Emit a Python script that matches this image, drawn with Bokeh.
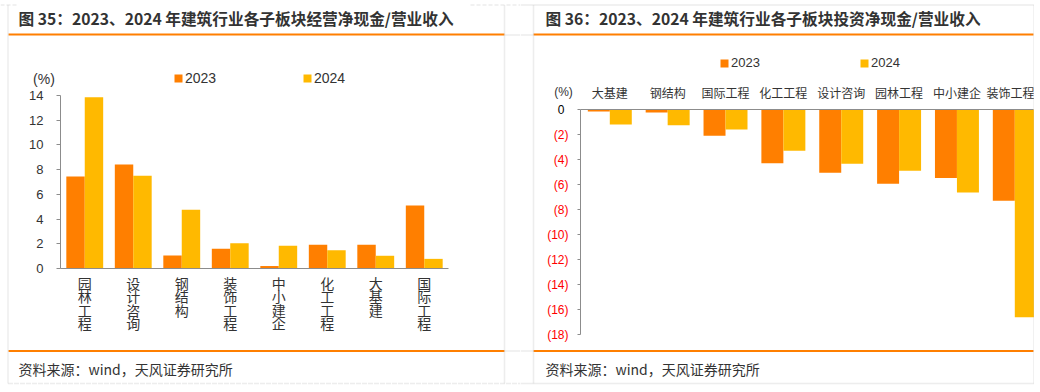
from bokeh.plotting import figure
from bokeh.models import FixedTicker, Range1d, Label, BoxAnnotation, Legend, LegendItem, ColumnDataSource
from bokeh.layouts import row
from bokeh.embed import file_html
from bokeh.resources import INLINE
from bokeh.transform import dodge

# ---------------- data ----------------
title_l = "图 35：2023、2024 年建筑行业各子板块经营净现金/营业收入"
title_r = "图 36：2023、2024 年建筑行业各子板块投资净现金/营业收入"
source_note = "资料来源：wind，天风证券研究所"
unit_label = "(%)"
years = ["2023", "2024"]

cats_l = ["园林工程", "设计咨询", "钢结构", "装饰工程", "中小建企", "化工工程", "大基建", "国际工程"]
op_2023 = [7.44, 8.41, 1.05, 1.59, 0.2, 1.92, 1.92, 5.1]
op_2024 = [13.86, 7.5, 4.75, 2.05, 1.84, 1.48, 1.03, 0.78]
ticks_l = [0, 2, 4, 6, 8, 10, 12, 14]

cats_r = ["大基建", "钢结构", "国际工程", "化工工程", "设计咨询", "园林工程", "中小建企", "装饰工程"]
inv_2023 = [-0.16, -0.24, -2.1, -4.29, -5.06, -5.94, -5.48, -7.29]
inv_2024 = [-1.2, -1.25, -1.6, -3.3, -4.34, -4.9, -6.63, -16.6]
ticks_r = [0, -2, -4, -6, -8, -10, -12, -14, -16, -18]
tick_labels_r = ["0", "(2)", "(4)", "(6)", "(8)", "(10)", "(12)", "(14)", "(16)", "(18)"]

# ---------------- style ----------------
ORANGE = "#FF7F00"
GOLD = "#FFB900"
TXT = "#333333"
AXIS = "#8c8c8c"
BORDER = "#c4c4c4"
F_LAT = "'Liberation Sans', 'Noto Sans CJK SC'"
F_CJK = "'Noto Sans CJK SC'"
BW = 0.38
H = 392


def lin(d0, p0, d1, p1, p):
    """data value at pixel p, given two (data, pixel) anchors"""
    return d0 + (p - p0) * (d1 - d0) / (p1 - p0)


def base_fig(width, xr, yr, **kw):
    p = figure(width=width, height=H, output_backend="svg", toolbar_location=None,
               min_border_left=0, min_border_right=0, min_border_top=0, min_border_bottom=0,
               x_range=Range1d(*xr), y_range=Range1d(*yr), **kw)
    p.outline_line_color = None
    p.xgrid.grid_line_color = None
    p.ygrid.grid_line_color = None
    p.background_fill_color = "white"
    p.border_fill_color = "white"
    return p


def label(p, text, x, y, size, color=TXT, font=F_CJK, style="normal", align="left",
          baseline="middle", yu="screen"):
    p.add_layout(Label(x=x, y=y, x_units="screen", y_units=yu, text=text, text_font=font,
                       text_font_size=size, text_color=color, text_font_style=style,
                       text_align=align, text_baseline=baseline))


def box(p, l, r, t, b, fill=None, line=None, dash="solid", lw=1):
    p.add_layout(BoxAnnotation(left=l, right=r, top=t, bottom=b, left_units="screen",
                               right_units="screen", top_units="screen", bottom_units="screen",
                               fill_color=fill, fill_alpha=1 if fill else 0,
                               line_color=line, line_dash=dash, line_width=lw, level="overlay"))


def dline(p, x0, y0, x1, y1, cx):
    # dashed cell border, given in page pixels; cx = canvas left on the page
    box(p, x0 - cx, x1 - cx, H - y0, H - y1, line=BORDER, dash="4 2", lw=1.5)


def add_legend(p, renderer, text, loc, size):
    leg = Legend(items=[LegendItem(label=text, renderers=[renderer])], location=loc,
                 orientation="horizontal", glyph_width=10, glyph_height=10, label_standoff=2,
                 label_text_font=F_LAT, label_text_font_size=size, label_text_color=TXT,
                 padding=0, margin=0, spacing=0, border_line_color=None,
                 background_fill_alpha=0, label_height=10)
    p.add_layout(leg)


def style_y(ax, size, color, standoff, tick_out):
    ax.minor_tick_line_color = None
    ax.major_tick_in = 0
    ax.major_tick_out = tick_out
    ax.major_tick_line_color = AXIS
    ax.axis_line_color = AXIS
    ax.major_label_standoff = standoff
    ax.major_label_text_font = F_LAT
    ax.major_label_text_font_size = size
    ax.major_label_text_color = color


def style_x(ax, size, standoff):
    ax.major_tick_line_color = None
    ax.minor_tick_line_color = None
    ax.major_tick_out = 0
    ax.major_tick_in = 0
    ax.major_label_standoff = standoff
    ax.axis_line_color = AXIS
    ax.major_label_text_font = F_CJK
    ax.major_label_text_font_size = size
    ax.major_label_text_color = TXT


# ================= left panel (page x 0..520) =================
WL = 520
x0l, x1l = -0.5, len(cats_l) - 0.5          # chart x extent
ax_l = (x0l, 60, x1l, 448)                  # data/pixel anchors
ay_l = (0, 268, 14, 95)
pl = base_fig(WL, (lin(*ax_l, 0), lin(*ax_l, WL)), (lin(*ay_l, H), lin(*ay_l, 0)))

src_l = ColumnDataSource(dict(x=list(range(len(cats_l))), y23=op_2023, y24=op_2024))
rl23 = pl.vbar(x=dodge("x", -BW / 2, range=pl.x_range), top="y23", bottom=0, width=BW,
               source=src_l, fill_color=ORANGE, line_color=None)
rl24 = pl.vbar(x=dodge("x", BW / 2, range=pl.x_range), top="y24", bottom=0, width=BW,
               source=src_l, fill_color=GOLD, line_color=None)

xa = pl.xaxis[0]
xa.fixed_location = 0
xa.bounds = (x0l, x1l)
xa.ticker = FixedTicker(ticks=list(range(len(cats_l))))
xa.major_label_overrides = {i: "\n".join(c) for i, c in enumerate(cats_l)}
style_x(xa, "14px", 4)
xa.major_label_text_line_height = 0.68

ya = pl.yaxis[0]
ya.fixed_location = x0l
ya.bounds = (ticks_l[0], ticks_l[-1])
ya.ticker = FixedTicker(ticks=ticks_l)
style_y(ya, "13px", TXT, 13, 4)

label(pl, title_l, 18, H - 18, "15.7px", style="bold")
box(pl, 8, 504, H - 33, H - 35, fill=ORANGE)
box(pl, 8, 504, H - 349.5, H - 351.5, fill=ORANGE)
label(pl, source_note, 18, H - 368, "14px")
label(pl, unit_label, 43.5, H - 78, "14px", font=F_LAT, align="center")
dline(pl, 7.5, 4.5, 7.5, 383, 0)
dline(pl, 504, 4.5, 504, 383, 0)
dline(pl, 7.5, 383, 520, 383, 0)
dline(pl, 0, 4.5, 17, 4.5, 0)
dline(pl, 470, 4.5, 520, 4.5, 0)
dline(pl, 504, 34.5, 520, 34.5, 0)
dline(pl, 504, 350.5, 520, 350.5, 0)
add_legend(pl, rl23, years[0], (173, H - 86), "14px")
add_legend(pl, rl24, years[1], (302, H - 86), "14px")

# ================= right panel (page x 520..1034) =================
CX = 520
WR = 514
n = len(cats_r)
ax_r = (0, 609.3 - CX, n - 1, 1014.3 - CX)
ay_r = (0, 109, -18, 334.3)
pr = base_fig(WR, (lin(*ax_r, 0), lin(*ax_r, WR)), (lin(*ay_r, H), lin(*ay_r, 0)),
              x_axis_location="above")
y_axis_x = lin(*ax_r, 580 - CX)

src_r = ColumnDataSource(dict(x=list(range(n)), y23=inv_2023, y24=inv_2024))
rr23 = pr.vbar(x=dodge("x", -BW / 2, range=pr.x_range), top=0, bottom="y23", width=BW,
               source=src_r, fill_color=ORANGE, line_color=None)
rr24 = pr.vbar(x=dodge("x", BW / 2, range=pr.x_range), top=0, bottom="y24", width=BW,
               source=src_r, fill_color=GOLD, line_color=None)

xr = pr.xaxis[0]
xr.fixed_location = 0
xr.bounds = (y_axis_x, lin(*ax_r, 1033 - CX))
xr.ticker = FixedTicker(ticks=list(range(n)))
xr.major_label_overrides = {i: c for i, c in enumerate(cats_r)}
style_x(xr, "12px", 9)

yr = pr.yaxis[0]
yr.fixed_location = y_axis_x
yr.bounds = (ticks_r[-1], ticks_r[0])
yr.ticker = FixedTicker(ticks=ticks_r)
yr.major_label_overrides = {t: (s if t != 0 else "") for t, s in zip(ticks_r, tick_labels_r)}
style_y(yr, "12px", "#FF0000", 9, 3)

label(pr, tick_labels_r[0], 564 - CX, ticks_r[0], "12px", color="#000000", font=F_LAT,
      align="right", yu="data")
label(pr, title_r, 545 - CX, H - 18, "15.7px", style="bold")
box(pr, 533 - CX, 1033 - CX, H - 33, H - 35, fill=ORANGE)
box(pr, 533 - CX, 1033 - CX, H - 349.5, H - 351.5, fill=ORANGE)
label(pr, source_note, 545 - CX, H - 368, "14px")
label(pr, unit_label, 563 - CX, H - 91, "12px", font=F_LAT, align="center")
dline(pr, 533, 4.5, 533, 383, CX)
dline(pr, 1033.5, 4.5, 1033.5, 383, CX)
dline(pr, 520, 4.5, 1033.5, 4.5, CX)
dline(pr, 520, 383, 1033.5, 383, CX)
dline(pr, 520, 34.5, 533, 34.5, CX)
dline(pr, 520, 350.5, 533, 350.5, CX)
add_legend(pr, rr23, years[0], (719 - CX, H - 70), "13px")
add_legend(pr, rr24, years[1], (859 - CX, H - 70), "13px")

layout = row(pl, pr, spacing=0)
open("out.html", "w").write(file_html(layout, INLINE))
